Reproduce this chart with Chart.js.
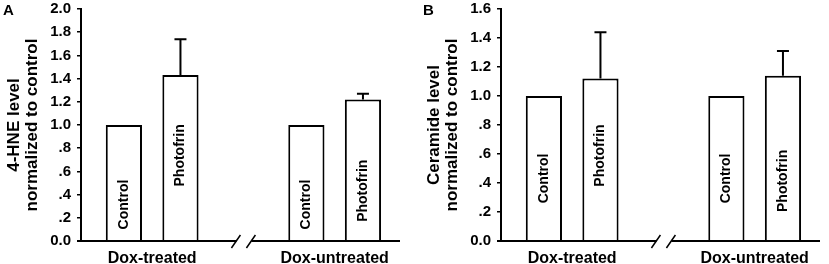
<!DOCTYPE html>
<html>
<head>
<meta charset="utf-8">
<script src="https://cdn.jsdelivr.net/npm/chart.js@4.4.0/dist/chart.umd.min.js"></script>
<style>
  html, body { margin: 0; padding: 0; background: #fff; overflow: hidden; }
  #wrap { position: relative; width: 829px; height: 264px; }
  #cA { position: absolute; left: 0; top: 0; }
  #cB { position: absolute; left: 420px; top: 0; }
</style>
</head>
<body>
<div id="wrap">
  <canvas id="cA" width="420" height="264"></canvas>
  <canvas id="cB" width="409" height="264"></canvas>
</div>
<script>
// ---- data ----
const categories = ['Dox-treated', 'Dox-untreated'];
const barLabels = ['Control', 'Photofrin'];

const hneControl = [1.0, 1.0];
const hnePhotofrin = [1.43, 1.22];
const hnePhotofrinErr = [0.31, 0.05];
const hneTickLabels = ['0.0', '.2', '.4', '.6', '.8', '1.0', '1.2', '1.4', '1.6', '1.8', '2.0'];

const cerControl = [1.0, 1.0];
const cerPhotofrin = [1.12, 1.14];
const cerPhotofrinErr = [0.32, 0.17];
const cerTickLabels = ['0.0', '.2', '.4', '.6', '.8', '1.0', '1.2', '1.4', '1.6'];

const FONT = '"Liberation Sans", Arial, Helvetica, sans-serif';

// ---- plugins ----
const errorBarPlugin = {
  id: 'errorBars',
  afterDatasetsDraw(chart, args, opts) {
    const ctx = chart.ctx;
    const y = chart.scales.y;
    ctx.save();
    ctx.strokeStyle = '#000';
    ctx.lineWidth = 2;
    chart.data.datasets.forEach((ds, di) => {
      if (!ds.errors) return;
      const meta = chart.getDatasetMeta(di);
      meta.data.forEach((bar, i) => {
        const e = ds.errors[i];
        if (e == null) return;
        const top = y.getPixelForValue(ds.data[i].y + e);
        ctx.beginPath();
        ctx.moveTo(bar.x, bar.y);
        ctx.lineTo(bar.x, top);
        ctx.moveTo(bar.x - 6, top);
        ctx.lineTo(bar.x + 6, top);
        ctx.stroke();
      });
    });
    ctx.restore();
  }
};

const barTextPlugin = {
  id: 'barText',
  afterDatasetsDraw(chart, args, opts) {
    const ctx = chart.ctx;
    const y = chart.scales.y;
    ctx.save();
    ctx.fillStyle = '#000';
    ctx.font = 'bold 14px ' + FONT;
    ctx.textAlign = 'left';
    ctx.textBaseline = 'middle';
    chart.data.datasets.forEach((ds, di) => {
      const meta = chart.getDatasetMeta(di);
      meta.data.forEach((bar, i) => {
        const base = y.getPixelForValue(opts.anchors[di][i]);
        ctx.save();
        ctx.translate(bar.x, base);
        ctx.rotate(-Math.PI / 2);
        ctx.fillText(ds.label, 0, 0);
        ctx.restore();
      });
    });
    ctx.restore();
  }
};

const axisBreakPlugin = {
  id: 'axisBreak',
  afterDraw(chart, args, opts) {
    const ctx = chart.ctx;
    const x = chart.scales.x;
    const area = chart.chartArea;
    const yb = area.bottom;
    const bx = x.getPixelForValue(opts.at);
    ctx.save();
    ctx.strokeStyle = '#000';
    ctx.lineWidth = 2;
    ctx.beginPath();
    ctx.moveTo(area.left - 4, yb);
    ctx.lineTo(bx - 7, yb);
    ctx.moveTo(bx + 8, yb);
    ctx.lineTo(area.right, yb);
    ctx.stroke();
    ctx.lineWidth = 1.5;
    ctx.beginPath();
    ctx.moveTo(bx - 12, yb + 7);
    ctx.lineTo(bx - 3, yb - 6);
    ctx.moveTo(bx + 3, yb + 7);
    ctx.lineTo(bx + 12, yb - 6);
    ctx.stroke();
    // panel letter
    ctx.fillStyle = '#000';
    ctx.font = 'bold 15px ' + FONT;
    ctx.textAlign = 'left';
    ctx.textBaseline = 'top';
    ctx.fillText(opts.letter, 3, 3);
    ctx.restore();
  }
};

function makeChart(id, ctrl, photo, photoErr, tickLabels, yMax, title, rightPad, letter, anchors) {
  const toPts = arr => arr.map((v, i) => ({ x: i, y: v }));
  return new Chart(document.getElementById(id), {
    type: 'bar',
    data: {
      datasets: [
        { label: barLabels[0], data: toPts(ctrl), backgroundColor: '#fff', borderColor: '#000', borderWidth: 2 },
        { label: barLabels[1], data: toPts(photo), errors: photoErr, backgroundColor: '#fff', borderColor: '#000', borderWidth: 2 }
      ]
    },
    options: {
      responsive: false,
      animation: false,
      devicePixelRatio: 1,
      layout: { padding: { top: 9, right: rightPad, bottom: 0, left: 0 } },
      datasets: { bar: { categoryPercentage: 0.62, barPercentage: 0.64 } },
      plugins: {
        legend: { display: false },
        tooltip: { enabled: false },
        errorBars: {},
        barText: { anchors: anchors },
        axisBreak: { at: 0.5, letter: letter }
      },
      scales: {
        x: {
          type: 'linear',
          offset: false,
          min: -0.39,
          max: 1.358,
          grid: { display: false, offset: false },
          border: { display: false },
          afterBuildTicks: s => { s.ticks = categories.map((c, i) => ({ value: i })); },
          afterFit: s => { s.height = 23; s.paddingLeft = 0; s.paddingRight = 0; },
          ticks: {
            autoSkip: false,
            maxRotation: 0,
            padding: 0,
            color: '#000',
            font: { family: FONT, size: 16, weight: 'bold' },
            callback: v => categories[Math.round(v)]
          }
        },
        y: {
          min: 0,
          max: yMax,
          afterFit: s => { s.width = 81; s.paddingTop = 0; s.paddingBottom = 0; },
          grid: { drawOnChartArea: false, drawTicks: true, tickLength: 4, color: '#000', lineWidth: 1.5 },
          border: { display: true, color: '#000', width: 2 },
          ticks: {
            stepSize: 0.2,
            padding: 6,
            color: '#000',
            font: { family: FONT, size: 15, weight: 'bold' },
            callback: (v, i) => tickLabels[i]
          },
          title: {
            display: true,
            text: title,
            color: '#000',
            padding: { top: 5.5, bottom: 0 },
            font: { family: FONT, size: 17, weight: 'bold', lineHeight: '18px' }
          }
        }
      }
    },
    plugins: [errorBarPlugin, barTextPlugin, axisBreakPlugin]
  });
}

makeChart('cA', hneControl, hnePhotofrin, hnePhotofrinErr, hneTickLabels, 2.0,
  ['4-HNE level', 'normalized to control'], 20, 'A',
  [[0.1, 0.1], [0.47, 0.165]]);
makeChart('cB', cerControl, cerPhotofrin, cerPhotofrinErr, cerTickLabels, 1.6,
  ['Ceramide level', 'normalized to control'], 9, 'B',
  [[0.26, 0.26], [0.375, 0.2]]);
</script>
</body>
</html>
